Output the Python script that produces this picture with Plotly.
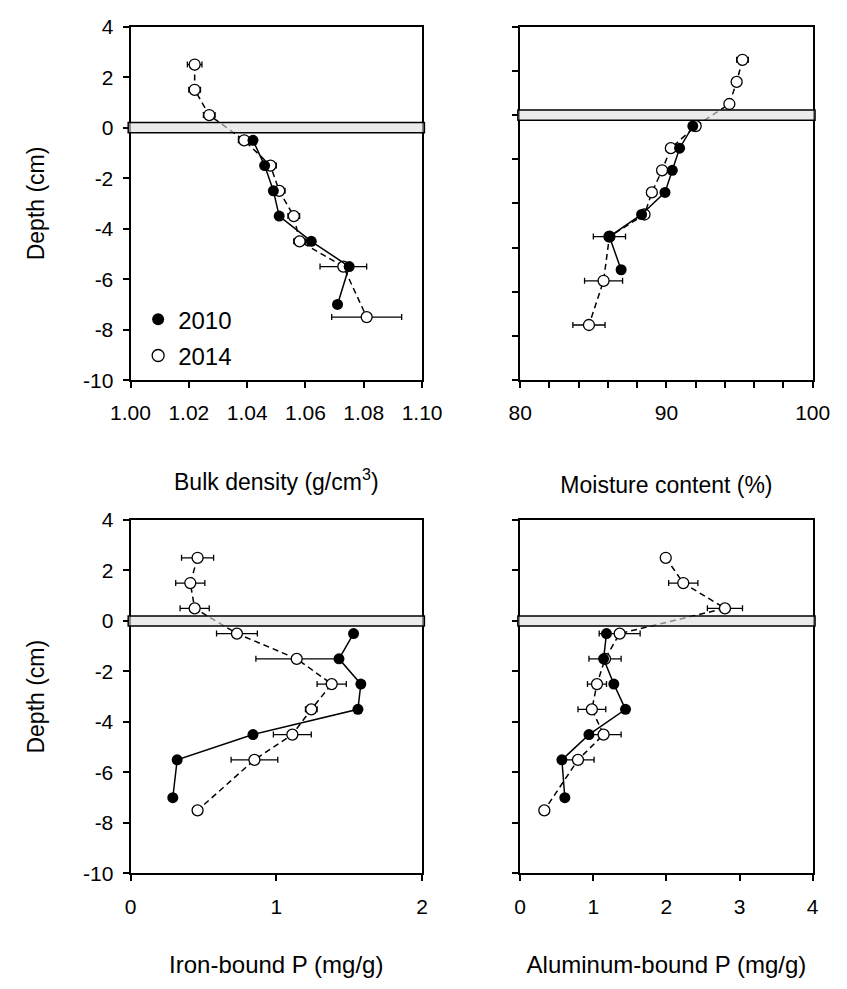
import plotly.graph_objects as go

# Sampling depths (cm); positive values are in the water column above the sediment surface
depth_2010 = [-0.5, -1.5, -2.5, -3.5, -4.5, -5.5, -7.0]
depth_2014 = [2.5, 1.5, 0.5, -0.5, -1.5, -2.5, -3.5, -4.5, -5.5, -7.5]
depth_2014_moist = [2.5, 1.5, 0.5, -0.5, -1.5, -2.5, -3.5, -4.5, -5.5, -7.5, -9.5]

# Bulk density (g/cm3)
bulk_2010 = [1.042, 1.046, 1.049, 1.051, 1.062, 1.075, 1.071]
bulk_2014 = [1.022, 1.022, 1.027, 1.039, 1.048, 1.051, 1.056, 1.058, 1.073, 1.081]
bulk_2014_err = [0.0025, 0.002, 0.002, 0.002, 0.002, 0.002, 0.002, 0.002, 0.008, 0.012]

# Moisture content (%)
moist_2010 = [91.8, 90.9, 90.4, 89.9, 88.3, 86.1, 86.9]
moist_2014 = [95.2, 94.8, 94.3, 92.0, 90.3, 89.7, 89.0, 88.5, 86.1, 85.7, 84.7]
moist_2014_err = [0.4, 0.3, 0.3, 0.3, 0.3, 0.3, 0.3, 0.3, 1.1, 1.3, 1.1]

# Iron-bound P (mg/g)
iron_2010 = [1.53, 1.43, 1.58, 1.56, 0.84, 0.32, 0.29]
iron_2014 = [0.46, 0.41, 0.44, 0.73, 1.14, 1.38, 1.24, 1.11, 0.85, 0.46]
iron_2014_err = [0.11, 0.10, 0.10, 0.14, 0.28, 0.10, 0.04, 0.13, 0.16, 0.03]

# Aluminum-bound P (mg/g)
alum_2010 = [1.18, 1.14, 1.28, 1.44, 0.94, 0.57, 0.61]
alum_2014 = [1.99, 2.23, 2.80, 1.36, 1.16, 1.05, 0.98, 1.14, 0.79, 0.33]
alum_2014_err = [0.05, 0.20, 0.24, 0.28, 0.22, 0.13, 0.19, 0.24, 0.22, 0.05]

# Tick labels
depth_ticks = [4, 2, 0, -2, -4, -6, -8, -10]
depth_ticks_moist = [4, 2, 0, -2, -4, -6, -8, -10, -12]
depth_labels = ["4", "2", "0", "-2", "-4", "-6", "-8", "-10"]

FONT = "Liberation Sans, Arial, sans-serif"
W, H = 847, 989

panels = [
    # (xaxis id, yaxis id, x2010, x2014, err2014, depth2014)
    ("x", "y", bulk_2010, bulk_2014, bulk_2014_err, depth_2014),
    ("x2", "y2", moist_2010, moist_2014, moist_2014_err, depth_2014_moist),
    ("x3", "y3", iron_2010, iron_2014, iron_2014_err, depth_2014),
    ("x4", "y4", alum_2010, alum_2014, alum_2014_err, depth_2014),
]

fig = go.Figure()

for xa, ya, v10, v14, e14, d14 in panels:
    fig.add_trace(go.Scatter(
        x=v14, y=d14, xaxis=xa, yaxis=ya, mode="lines+markers",
        line=dict(color="black", width=1.5, dash="6px,4px"),
        marker=dict(symbol="circle", size=11, color="white",
                    line=dict(color="black", width=1.3)),
        error_x=dict(type="data", array=e14, visible=True, color="black",
                     thickness=1.3, width=3),
        showlegend=False,
    ))
    fig.add_trace(go.Scatter(
        x=v10, y=depth_2010, xaxis=xa, yaxis=ya, mode="lines+markers",
        line=dict(color="black", width=1.5),
        marker=dict(symbol="circle", size=11, color="black"),
        showlegend=False,
    ))

# legend entries
fig.add_trace(go.Scatter(x=[None], y=[None], mode="markers", name="2010",
                         marker=dict(symbol="circle", size=12, color="black"),
                         legendgroup="a"))
fig.add_trace(go.Scatter(x=[None], y=[None], mode="markers", name="2014",
                         marker=dict(symbol="circle", size=12, color="white",
                                     line=dict(color="black", width=1.3)),
                         legendgroup="b"))

# sediment-water interface band
band = {"y": 0.2, "y2": 0.23, "y3": 0.2, "y4": 0.2}
for xa, ya, *_ in panels:
    fig.add_shape(type="rect", xref=f"{xa} domain", yref=ya,
                  x0=-0.008, x1=1.008, y0=-band[ya], y1=band[ya],
                  fillcolor="rgba(222,222,222,0.62)",
                  line=dict(color="black", width=1.5), layer="above")

left_dom = [116 / W, 422 / W]
right_dom = [525 / W, 832 / W]
top_dom = [1 - 377 / H, 1 - 15 / H]
bot_dom = [1 - 882 / H, 1 - 520 / H]

axis_common = dict(showline=True, mirror=True, linecolor="black", linewidth=2,
                   ticks="outside", ticklen=6, tickwidth=1.5, tickcolor="black",
                   showgrid=False, zeroline=False,
                   tickfont=dict(family=FONT, size=21, color="black"))
x_common = dict(ticklabelstandoff=7, **axis_common)
y_common = dict(ticklabelstandoff=5, **axis_common)
title_top = dict(family=FONT, size=23, color="black")
title_bot = dict(family=FONT, size=24, color="black")

fig.update_layout(
    width=W, height=H, margin=dict(l=0, r=0, t=0, b=0),
    paper_bgcolor="white", plot_bgcolor="white",
    font=dict(family=FONT, color="black"),
    xaxis=dict(domain=left_dom, anchor="y", range=[1.0, 1.1], dtick=0.02,
               tick0=1.0, tickformat=".2f",
               title=dict(text="Bulk density (g/cm<sup>3</sup>)", font=title_top,
                          standoff=50), **x_common),
    yaxis=dict(domain=top_dom, anchor="x", range=[-10, 4],
               tickvals=depth_ticks, ticktext=depth_labels,
               title=dict(text="Depth (cm)", font=title_top, standoff=32),
               **y_common),
    xaxis2=dict(domain=right_dom, anchor="y2", range=[80, 100], dtick=10,
                minor=dict(dtick=2, ticks="outside", ticklen=6, tickwidth=1.5,
                           tickcolor="black"),
                title=dict(text="Moisture content (%)", font=title_top, standoff=53),
                **x_common),
    yaxis2=dict(domain=top_dom, anchor="x2", range=[-12, 4],
                tickvals=depth_ticks_moist, showticklabels=False, **y_common),
    xaxis3=dict(domain=left_dom, anchor="y3", range=[0, 2], dtick=1,
                title=dict(text="Iron-bound P (mg/g)", font=title_bot, standoff=40),
                **x_common),
    yaxis3=dict(domain=bot_dom, anchor="x3", range=[-10, 4],
                tickvals=depth_ticks, ticktext=depth_labels,
                title=dict(text="Depth (cm)", font=title_top, standoff=32),
                **y_common),
    xaxis4=dict(domain=right_dom, anchor="y4", range=[0, 4], dtick=1,
                title=dict(text="Aluminum-bound P (mg/g)", font=title_bot,
                           standoff=40), **x_common),
    yaxis4=dict(domain=bot_dom, anchor="x4", range=[-10, 4],
                tickvals=depth_ticks, showticklabels=False, **y_common),
    legend=dict(x=124 / W, y=1 - 292 / H, xanchor="left", yanchor="top",
                bgcolor="rgba(0,0,0,0)", traceorder="grouped", tracegroupgap=2,
                font=dict(family=FONT, size=24, color="black")),
)

fig.write_html("out.html")
